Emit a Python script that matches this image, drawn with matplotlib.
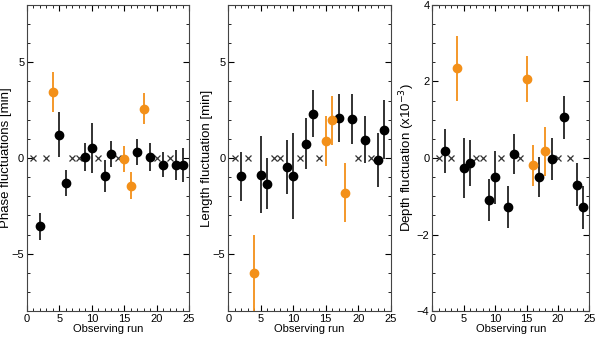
import matplotlib
matplotlib.use("Agg")
import matplotlib.pyplot as plt
from matplotlib.ticker import MultipleLocator

plt.rcParams['font.family'] = ['Liberation Sans', 'DejaVu Sans']

# runs without a measurement (plotted as crosses at zero)
cross_runs = [1, 3, 7, 8, 11, 14, 20, 22]

black_runs = [2, 5, 6, 9, 10, 12, 13, 17, 19, 21, 23, 24]
orange_runs = [4, 15, 16, 18]

# phase fluctuations [min]
phase_black = [-3.57, 1.22, -1.31, 0.05, 0.52, -0.94, 0.23, 0.31, 0.05, -0.35, -0.35, -0.38]
phase_black_err = [0.71, 1.16, 0.70, 0.74, 1.30, 0.83, 0.68, 0.69, 0.73, 0.66, 0.78, 0.89]
phase_orange = [3.45, -0.07, -1.46, 2.58]
phase_orange_err = [1.05, 0.68, 0.71, 0.81]

# length fluctuation [min]
length_black = [-0.96, -0.87, -1.34, -0.47, -0.94, 0.75, 2.32, 2.09, 2.02, 0.96, -0.12, 1.48]
length_black_err = [1.28, 2.02, 1.32, 1.39, 2.26, 1.33, 1.24, 1.26, 1.30, 1.22, 1.41, 1.55]
length_orange = [-6.01, 0.87, 1.97, -1.81]
length_orange_err = [2.0, 1.30, 1.27, 1.54]

# depth fluctuation (x1e-3)
depth_black = [0.175, -0.26, -0.13, -1.09, -0.50, -1.29, 0.11, -0.50, -0.02, 1.06, -0.70, -1.29]
depth_black_err = [0.58, 0.78, 0.59, 0.55, 0.69, 0.55, 0.52, 0.52, 0.55, 0.56, 0.56, 0.57]
depth_orange = [2.34, 2.06, -0.19, 0.175]
depth_orange_err = [0.85, 0.61, 0.54, 0.64]

orange = "#f39019"

fig = plt.figure(figsize=(6, 3.43), dpi=100)
rects = [[0.045, 0.093, 0.270, 0.893],
         [0.3805, 0.093, 0.2707, 0.893],
         [0.7205, 0.093, 0.2617, 0.893]]

panels = [
    (phase_black, phase_black_err, phase_orange, phase_orange_err, "Phase fluctuations [min]", (-8, 8), 5, 1),
    (length_black, length_black_err, length_orange, length_orange_err, "Length fluctuation [min]", (-8, 8), 5, 1),
    (depth_black, depth_black_err, depth_orange, depth_orange_err, "Depth fluctuation (x10$^{-3}$)", (-4, 4), 2, 0.5),
]

for rect, (yb, eb, yo, eo, ylabel, ylim, major, minor) in zip(rects, panels):
    ax = fig.add_axes(rect)
    ax.errorbar(black_runs, yb, yerr=eb, fmt='o', color='black', ecolor='#222222',
                ms=6, elinewidth=1.3, capsize=0)
    ax.errorbar(orange_runs, yo, yerr=eo, fmt='o', color=orange, ecolor=orange,
                ms=6, elinewidth=1.3, capsize=0)
    ax.plot(cross_runs, [0] * len(cross_runs), 'x', color='#333333', ms=5, mew=0.9)
    ax.set_xlim(0, 25)
    ax.set_ylim(*ylim)
    ax.xaxis.set_major_locator(MultipleLocator(5))
    ax.xaxis.set_minor_locator(MultipleLocator(1))
    ax.yaxis.set_major_locator(MultipleLocator(major))
    ax.yaxis.set_minor_locator(MultipleLocator(minor))
    ax.tick_params(which='both', direction='in', top=True, right=True, labelsize=8, pad=2)
    ax.tick_params(which='major', length=4)
    ax.tick_params(which='minor', length=2)
    for s in ax.spines.values():
        s.set_color('#444444')
    ax.set_xlabel("Observing run", fontsize=8, labelpad=0)
    ax.set_ylabel(ylabel, fontsize=9.5, labelpad=0)

fig.savefig("out.png", dpi=100)
